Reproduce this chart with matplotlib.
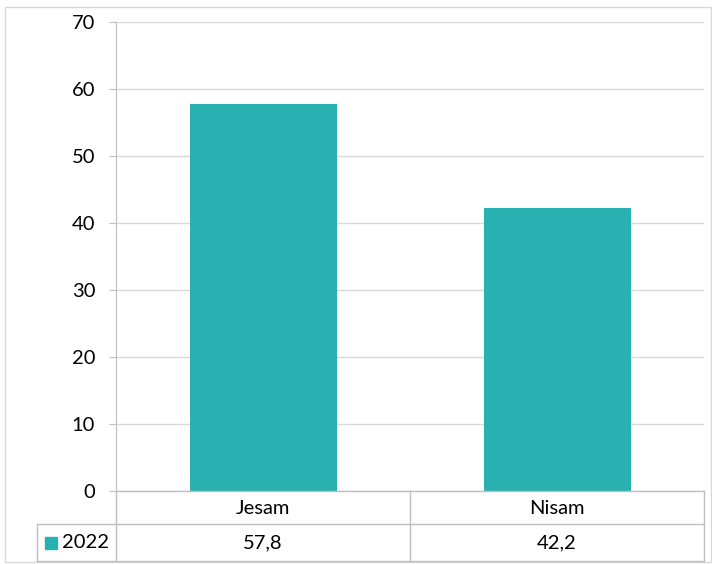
import matplotlib
matplotlib.use("Agg")
import matplotlib.pyplot as plt
from matplotlib.lines import Line2D
from matplotlib.patches import Rectangle

categories = ["Jesam", "Nisam"]
values = [57.8, 42.2]
series_name = "2022"
value_labels = ["57,8", "42,2"]
yticks = [0, 10, 20, 30, 40, 50, 60, 70]

BAR_COLOR = "#28B1B0"
GRID = "#d9d9d9"
AXIS = "#bfbfbf"
FS = 14.5
W, H = 712, 564

plt.rcParams["font.family"] = ["Lato", "DejaVu Sans"]

fig = plt.figure(figsize=(W / 100, H / 100), dpi=100)


def px(x, y):
    # pixel (from top-left) -> figure fraction
    return x / W, 1 - y / H


def hline(x0, x1, y, color=AXIS):
    (a, b), (c, d) = px(x0, y), px(x1, y)
    fig.add_artist(Line2D([a, c], [b, d], color=color, lw=1))


def vline(x, y0, y1, color=AXIS):
    (a, b), (c, d) = px(x, y0), px(x, y1)
    fig.add_artist(Line2D([a, c], [b, d], color=color, lw=1))


left, right, top, bottom = 116, 704, 22, 491
ax = fig.add_axes([left / W, 1 - bottom / H, (right - left) / W, (bottom - top) / H])

x = range(len(categories))
ax.bar(x, values, width=0.5, color=BAR_COLOR, zorder=3)
ax.set_xlim(-0.5, len(categories) - 0.5)
ax.set_ylim(0, 70)
ax.set_yticks(yticks)
ax.set_yticklabels([str(t) for t in yticks], fontsize=FS)
ax.set_xticks([])
ax.yaxis.grid(True, color=GRID, lw=1, zorder=0)
ax.tick_params(axis="y", length=5, color=AXIS, pad=10)
for s in ["top", "right", "bottom"]:
    ax.spines[s].set_visible(False)
ax.spines["left"].set_color(AXIS)

# outer border
fig.add_artist(Rectangle(px(5, 562), 706 / W, 555 / H, fill=False,
                         edgecolor=GRID, lw=1))

# data table
hline(left, right, bottom)
hline(37, right, 524)
hline(37, right, 561)
vline(left, bottom, 561)
vline(37, 524, 561)
vline(410, bottom, 561)
vline(right, bottom, 561)

col_w = (right - left) / len(categories)
for i, (cat, lab) in enumerate(zip(categories, value_labels)):
    cx = left + col_w * (i + 0.5)
    fig.text(*px(cx, 508), cat, ha="center", va="center", fontsize=FS)
    fig.text(*px(cx, 543), lab, ha="center", va="center", fontsize=FS)

fig.add_artist(Rectangle(px(45, 549), 12 / W, 12 / H, color=BAR_COLOR))
fig.text(*px(62, 543), series_name, ha="left", va="center", fontsize=FS)

fig.savefig("out.png", dpi=100)
